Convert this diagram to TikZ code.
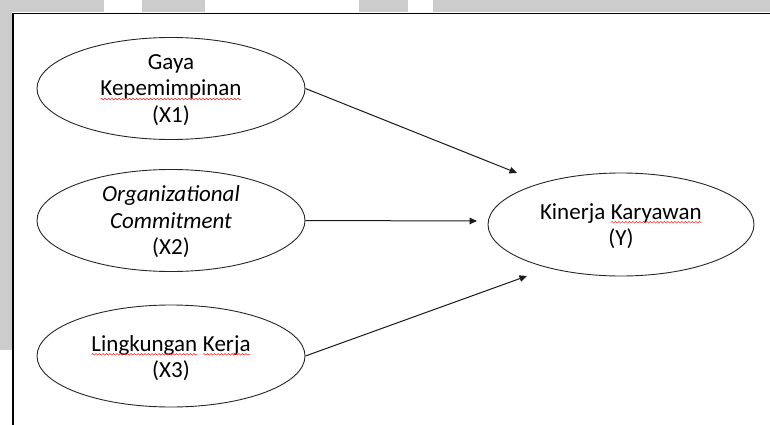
\documentclass[tikz,border=0pt]{standalone}
\usepackage{fontspec}
\setmainfont{Carlito}
\usetikzlibrary{shapes.geometric,arrows.meta,decorations.pathmorphing}
\newcommand\rw[1]{\tikz[baseline=(w.base)]{\node[inner sep=0pt,outer sep=0pt,anchor=base] (w) {#1};
  \draw[red!80, line width=0.6pt, decorate, decoration={snake,amplitude=0.8pt,segment length=3.5pt}] ([yshift=-3.2pt]w.base west) -- ([yshift=-3.2pt]w.base east);}}
\tikzset{
  oval/.style={draw=black!85, line width=0.9pt, ellipse, inner sep=0pt, minimum width=268pt, minimum height=102pt},
  txt/.style={align=center, inner sep=0pt, font=\fontsize{23}{26.5}\selectfont},
  conn/.style={draw=black!90, line width=1pt, -{Triangle[length=7.5pt,width=6.5pt]}},
  frame/.style={draw=black, line width=1.4pt},
}
\begin{document}
\begin{tikzpicture}[x=1pt,y=1pt]
\useasboundingbox (0,0) rectangle (770,-425);
% background grey strips
\fill[black!20] (0,0) rectangle (104,-12);
\fill[black!20] (142,0) rectangle (205,-12);
\fill[black!20] (359,0) rectangle (408,-12);
\fill[black!20] (433,0) rectangle (770,-12);
\fill[black!20] (0,0) rectangle (12,-350);
% frame
\draw[frame] (13,-425) -- (13,-13.5) -- (770,-13.5);
% ellipses
\node[oval] (x1) at (171,-88.5) {};
\node[oval] (x2) at (171,-220.5) {};
\node[oval] (x3) at (171,-356) {};
\node[oval, minimum width=266pt, minimum height=103pt] (y) at (621,-224.5) {};
% texts
\node[txt] (t1) at (171,-90) {Gaya\\\rw{Kepemimpinan}\\(X1)};
\node[txt] (t2) at (171,-222) {\itshape Organizational\\\itshape Commitment\\(X2)};
\node[txt] (t3) at (171,-358) {\rw{Lingkungan} \rw{Kerja}\\(X3)};
\node[txt] (ty) at (621,-226) {Kinerja \rw{Karyawan}\\(Y)};
% arrow end points
\coordinate (e1) at (517,-173);
\coordinate (e2) at (477,-221);
\coordinate (e3) at (527,-276);
\draw[conn] (x1.east) -- (e1);
\draw[conn] (x2.east) -- (e2);
\draw[conn] (x3.east) -- (e3);
\end{tikzpicture}
\end{document}
